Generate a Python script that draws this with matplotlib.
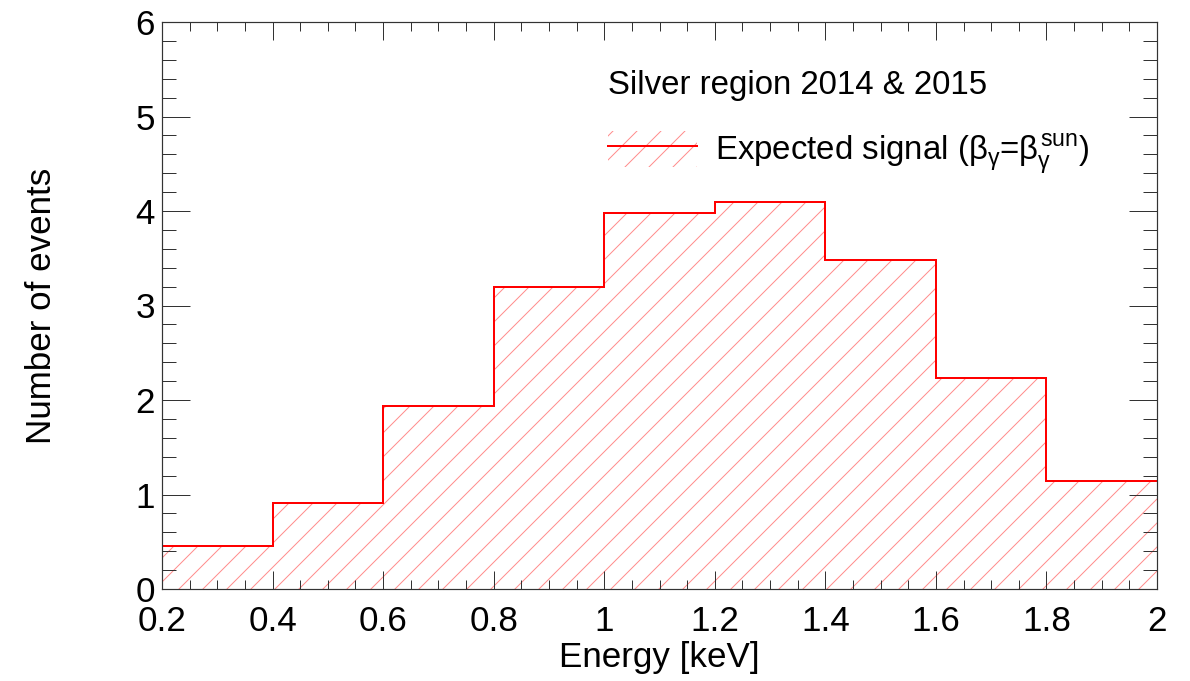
import numpy as np
import matplotlib
matplotlib.use('Agg')
import matplotlib.pyplot as plt
from matplotlib.patches import Patch
from matplotlib.lines import Line2D
from matplotlib.ticker import MultipleLocator

# Energy bins [keV] and expected signal counts
bin_edges = [0.2, 0.4, 0.6, 0.8, 1.0, 1.2, 1.4, 1.6, 1.8, 2.0]
expected_signal = [0.45, 0.91, 1.94, 3.20, 3.98, 4.10, 3.48, 2.23, 1.14]
x_tick_labels = ['0.2', '0.4', '0.6', '0.8', '1', '1.2', '1.4', '1.6', '1.8', '2']

legend_title = 'Silver region 2014 & 2015'
signal_label = r'Expected signal ($\beta_\gamma$=$\beta_\gamma^{sun}$)'

plt.rcParams['font.family'] = ['Liberation Sans', 'DejaVu Sans']
plt.rcParams['mathtext.fontset'] = 'custom'
plt.rcParams['mathtext.rm'] = 'Liberation Sans'
plt.rcParams['mathtext.it'] = 'Liberation Sans'
plt.rcParams['mathtext.bf'] = 'Liberation Sans:bold'
plt.rcParams['hatch.linewidth'] = 1.0

# dpi 72 so that the hatch spacing matches the original
fig = plt.figure(figsize=(1190 / 72, 681 / 72), dpi=72)
ax = fig.add_axes([162 / 1190, 1 - 589 / 681, (1157 - 162) / 1190, (589 - 22) / 681])

hatch_col = '#ff8c8c'
ax.stairs(expected_signal, bin_edges, fill=True, hatch='/', facecolor='none',
          edgecolor=hatch_col, linewidth=0, zorder=1)
ax.stairs(expected_signal, bin_edges, baseline=None, color='red', linewidth=2, zorder=2)

ax.set_xlim(0.2, 2.0)
ax.set_ylim(0, 6)
ax.xaxis.set_minor_locator(MultipleLocator(0.05))
ax.yaxis.set_major_locator(MultipleLocator(1))
ax.yaxis.set_minor_locator(MultipleLocator(0.2))
ax.set_xticks(bin_edges)
ax.set_xticklabels(x_tick_labels)

ax.tick_params(which='both', direction='in', top=True, right=True, color='#333333', width=1)
ax.tick_params(axis='x', which='major', length=18, labelsize=35, pad=16)
ax.tick_params(axis='x', which='minor', length=9)
ax.tick_params(axis='y', which='major', length=28, labelsize=35, pad=7)
ax.tick_params(axis='y', which='minor', length=14)
for sp in ax.spines.values():
    sp.set_linewidth(1.2)
    sp.set_color('#333333')

ax.set_xlabel('Energy [keV]', fontsize=35, labelpad=3)
ax.set_ylabel('Number of events', fontsize=35, labelpad=77)

handle = (Patch(facecolor='none', edgecolor=hatch_col, hatch='/', linewidth=0),
          Line2D([], [], color='red', linewidth=2))
leg = ax.legend([handle], [signal_label], title=legend_title, loc='upper left',
                bbox_to_anchor=(0.448, 0.915), frameon=False, fontsize=33,
                title_fontsize=33, alignment='left', handlelength=2.7,
                handleheight=1.3, handletextpad=0.55, labelspacing=0.5,
                borderpad=0, borderaxespad=0)
# push the entry a bit further below the title
leg._legend_box.sep = 30

fig.savefig('out.png', dpi=72)
